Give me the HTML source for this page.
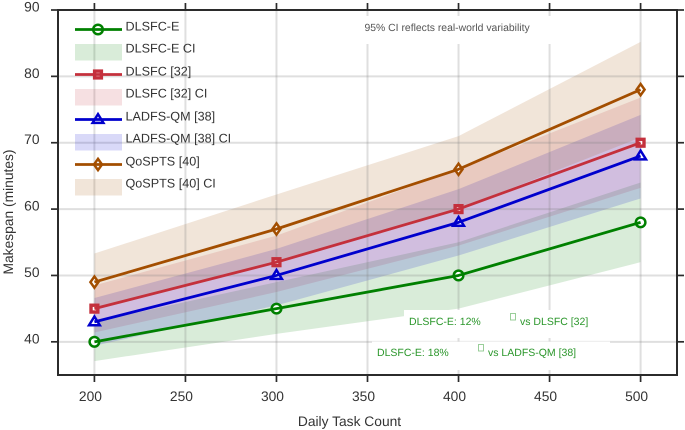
<!DOCTYPE html>
<html>
<head>
<meta charset="utf-8">
<style>
html,body{margin:0;padding:0;background:#fff;width:685px;height:430px;overflow:hidden}
svg{display:block}
text{font-family:"Liberation Sans",sans-serif;text-rendering:geometricPrecision}
</style>
</head>
<body>
<svg id="chart" width="685" height="430" viewBox="0 0 685 430" xmlns="http://www.w3.org/2000/svg"></svg>
<script>
const taskCounts = [200, 300, 400, 500];
const greenMean = [40, 45, 50, 58];
const greenLower = [37.1, 41.2, 45, 52];
const greenUpper = [43, 49, 55, 64];
const redMean = [45, 52, 60, 70];
const redLower = [41.4, 47.5, 54.5, 63.2];
const redUpper = [48.5, 56, 66, 76.8];
const blueMean = [43, 50, 58, 68];
const blueLower = [39.4, 45.5, 53, 61.6];
const blueUpper = [46.6, 54, 63, 74.2];
const brownMean = [49, 57, 66, 78];
const brownLower = [45, 52, 60, 70.8];
const brownUpper = [53.3, 62.2, 71, 85.2];
const xTickLabels = [200, 250, 300, 350, 400, 450, 500];
const yTickLabels = [40, 50, 60, 70, 80, 90];
const seriesNames = ['DLSFC-E', 'DLSFC [32]', 'LADFS-QM [38]', 'QoSPTS [40]'];

const NS = 'http://www.w3.org/2000/svg';
const svg = document.getElementById('chart');
const plot = {left: 58, right: 677, top: 10, bottom: 375, x0: 180, x1: 520, y0: 35, y1: 90};
function xScale(v) { return plot.left + (v - plot.x0) * (plot.right - plot.left) / (plot.x1 - plot.x0); }
function yScale(v) { return plot.bottom - (v - plot.y0) * (plot.bottom - plot.top) / (plot.y1 - plot.y0); }
function make(tag, attrs, parent) {
  const el = document.createElementNS(NS, tag);
  for (const k in attrs) el.setAttribute(k, attrs[k]);
  (parent || svg).appendChild(el);
  return el;
}
function slug(s) { return s.toLowerCase().replace(/[^a-z0-9]+/g, '-').replace(/-$/, ''); }

const series = [
  {name: seriesNames[0], mean: greenMean, lower: greenLower, upper: greenUpper, color: '#008000', marker: 'circle'},
  {name: seriesNames[1], mean: redMean, lower: redLower, upper: redUpper, color: '#c4303c', marker: 'square'},
  {name: seriesNames[2], mean: blueMean, lower: blueLower, upper: blueUpper, color: '#0000cd', marker: 'triangle'},
  {name: seriesNames[3], mean: brownMean, lower: brownLower, upper: brownUpper, color: '#a34e00', marker: 'diamond'}
];

function drawMarker(kind, cx, cy, color, parent) {
  const common = {fill: '#fff', stroke: color, 'stroke-width': 2.5, 'stroke-linejoin': 'miter'};
  let el;
  if (kind === 'circle') {
    el = make('circle', Object.assign({cx: cx, cy: cy, r: 4.8}, common), parent);
  } else if (kind === 'square') {
    el = make('rect', Object.assign({x: cx - 3.4, y: cy - 3.4, width: 6.8, height: 6.8}, common, {'stroke-width': 3.4}), parent);
  } else if (kind === 'triangle') {
    el = make('polygon', Object.assign({points: [cx, cy - 5.4, cx + 5.4, cy + 3.4, cx - 5.4, cy + 3.4].join(' ')}, common), parent);
  } else {
    el = make('polygon', Object.assign({points: [cx, cy - 5.6, cx + 4, cy, cx, cy + 5.6, cx - 4, cy].join(' ')}, common), parent);
  }
  return el;
}

// CI bands
series.forEach(function (s) {
  const up = s.upper.map(function (v, i) { return xScale(taskCounts[i]) + ',' + yScale(v); });
  const lo = s.lower.map(function (v, i) { return xScale(taskCounts[i]) + ',' + yScale(v); }).reverse();
  const band = make('polygon', {points: up.concat(lo).join(' '), fill: s.color, 'fill-opacity': 0.15});
  
  
});

// grid
xTickLabels.forEach(function (v) {
  const g = make('line', {x1: xScale(v), x2: xScale(v), y1: plot.top, y2: plot.bottom, stroke: '#808080', 'stroke-opacity': 0.25, 'stroke-width': 2});
  
  
});
yTickLabels.forEach(function (v) {
  const g = make('line', {x1: plot.left, x2: plot.right, y1: yScale(v), y2: yScale(v), stroke: '#808080', 'stroke-opacity': 0.25, 'stroke-width': 2});
  
  
});

// markers then lines
series.forEach(function (s) {
  s.mean.forEach(function (v, i) {
    const m = drawMarker(s.marker, xScale(taskCounts[i]), yScale(v), s.color);
    
    
  });
  const pts = s.mean.map(function (v, i) { return xScale(taskCounts[i]) + ',' + yScale(v); }).join(' ');
  const line = make('polyline', {points: pts, fill: 'none', stroke: s.color, 'stroke-width': 2.8, 'stroke-linejoin': 'round'});
  
  
});

// annotation masks
const maskTop = make('rect', {x: 360, y: 16, width: 195, height: 28, fill: '#fff'});


const maskA = make('rect', {x: 404, y: 310, width: 190, height: 28, fill: '#fff'});


const maskB = make('rect', {x: 372, y: 341.5, width: 238, height: 28.5, fill: '#fff'});



// spines
const frame = make('rect', {x: plot.left, y: plot.top, width: plot.right - plot.left, height: plot.bottom - plot.top, fill: 'none', stroke: '#2b2b2b', 'stroke-width': 2});



// ticks and labels
xTickLabels.forEach(function (v) {
  const x = xScale(v);
  const b = make('line', {x1: x, x2: x, y1: plot.bottom, y2: plot.bottom + 7, stroke: '#2b2b2b', 'stroke-width': 1.7});
  
  
  const t = make('line', {x1: x, x2: x, y1: plot.top, y2: plot.top - 7, stroke: '#2b2b2b', 'stroke-width': 1.7});
  
  
  const lab = make('text', {x: x - 4, y: 401, 'text-anchor': 'middle', 'font-size': 13.8, fill: '#333'});
  lab.textContent = v;
  
  
});
yTickLabels.forEach(function (v) {
  const y = yScale(v);
  const l = make('line', {x1: plot.left, x2: plot.left - 7, y1: y, y2: y, stroke: '#2b2b2b', 'stroke-width': 1.7});
  
  
  const r = make('line', {x1: plot.right, x2: plot.right + 7, y1: y, y2: y, stroke: '#2b2b2b', 'stroke-width': 1.7});
  
  
  const lab = make('text', {x: 39.5, y: y + 1.5, 'text-anchor': 'end', 'font-size': 13.8, fill: '#333'});
  lab.textContent = v;
  
  
});

// axis titles
const xTitle = make('text', {x: 349.5, y: 426, 'text-anchor': 'middle', 'font-size': 13.8, fill: '#333'});
xTitle.textContent = 'Daily Task Count';


const yTitle = make('text', {x: 0, y: 0, transform: 'translate(13,212) rotate(-90)', 'text-anchor': 'middle', 'font-size': 13.8, fill: '#333'});
yTitle.textContent = 'Makespan (minutes)';



// legend
const legendRowStart = 29.5;
const legendRowStep = 45;
series.forEach(function (s, i) {
  const y = legendRowStart + i * legendRowStep;
  const mk = drawMarker(s.marker, 98, y, s.color);
  
  
  const ln = make('line', {x1: 75, x2: 122, y1: y, y2: y, stroke: s.color, 'stroke-width': 2.8});
  
  
  const label = make('text', {x: 125.5, y: y + 1, 'font-size': 12.6, fill: '#333'});
  label.textContent = s.name;
  
  
  const patch = make('rect', {x: 75, y: y + 14.5, width: 47, height: 16.5, fill: s.color, 'fill-opacity': 0.15});
  
  
  const ciLabel = make('text', {x: 125.5, y: y + 23, 'font-size': 12.6, fill: '#333'});
  ciLabel.textContent = s.name + ' CI';
  
  
});

// annotations
const note = make('text', {x: 364.5, y: 31, 'font-size': 10.4, fill: '#555'});
note.textContent = '95% CI reflects real-world variability';



const a1 = make('text', {x: 409, y: 325, 'font-size': 10.5, fill: '#2a962a'});
a1.textContent = 'DLSFC-E: 12%';


const a1box = make('rect', {x: 510.5, y: 313.5, width: 5, height: 6.5, fill: 'none', stroke: '#8fc98f', 'stroke-width': 0.9});


const a1b = make('text', {x: 520, y: 325, 'font-size': 10.5, fill: '#2a962a'});
a1b.textContent = 'vs DLSFC [32]';



const a2 = make('text', {x: 377, y: 356, 'font-size': 10.5, fill: '#2a962a'});
a2.textContent = 'DLSFC-E: 18%';


const a2box = make('rect', {x: 478.5, y: 344.5, width: 5, height: 6.5, fill: 'none', stroke: '#8fc98f', 'stroke-width': 0.9});


const a2b = make('text', {x: 488, y: 356, 'font-size': 10.5, fill: '#2a962a'});
a2b.textContent = 'vs LADFS-QM [38]';


</script>
</body>
</html>
